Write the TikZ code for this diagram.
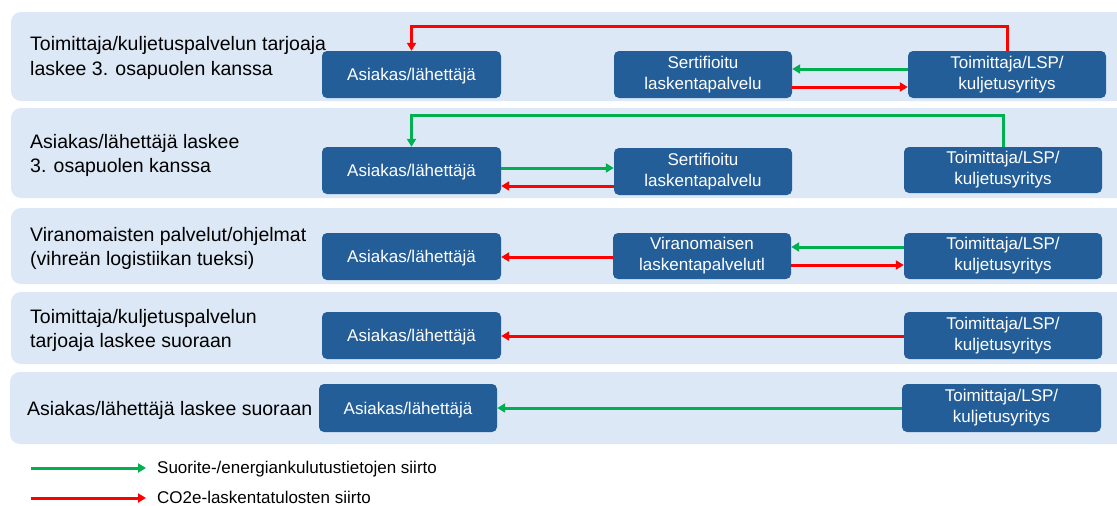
\documentclass[tikz,border=0pt]{standalone}
\usepackage{fontspec}
\setmainfont{Liberation Sans}
\usetikzlibrary{arrows.meta}
\definecolor{bandfill}{HTML}{DCE8F5}
\definecolor{boxfill}{HTML}{245E99}
\definecolor{flowgreen}{HTML}{00B050}
\definecolor{flowred}{HTML}{FF0000}
\tikzset{
  band/.style={fill=bandfill, rounded corners=10pt},
  party/.style={rectangle, rounded corners=5pt, fill=boxfill, text=white,
    inner sep=0pt, align=center, font=\fontsize{17}{21}\selectfont},
  oneline/.style={party, text depth=0pt},
  rowlabel/.style={anchor=base west, inner sep=0pt, font=\fontsize{19.5}{24}\selectfont},
  legtext/.style={anchor=base west, inner sep=0pt, font=\fontsize{17}{21}\selectfont},
  flow/.style={line width=3pt, -{Triangle[length=8pt,width=9pt]}},
  data/.style={flow, draw=flowgreen},
  result/.style={flow, draw=flowred},
}
\begin{document}
\begin{tikzpicture}[x=1pt, y=-1pt]
\useasboundingbox (0,0) rectangle (1117,506);
\fill[white] (0,0) rectangle (1117,506);

% background bands, one per way of calculating
\begin{scope}
  \clip (0,0) rectangle (1117,506);
  \path[band] (11,12)  rectangle (1140,101);
  \path[band] (11,108) rectangle (1140,198);
  \path[band] (11,208) rectangle (1140,284);
  \path[band] (11,292) rectangle (1140,364);
  \path[band] (10,372) rectangle (1140,444);
\end{scope}

% row labels
\node[rowlabel] (l1a) at (30,50)  {Toimittaja/kuljetuspalvelun tarjoaja};
\node[rowlabel] (l1b) at (30,75)  {laskee 3. osapuolen kanssa};
\node[rowlabel] (l2a) at (30,148) {Asiakas/lähettäjä laskee};
\node[rowlabel] (l2b) at (30,172) {3. osapuolen kanssa};
\node[rowlabel] (l3a) at (30,241) {Viranomaisten palvelut/ohjelmat};
\node[rowlabel] (l3b) at (30,265) {(vihreän logistiikan tueksi)};
\node[rowlabel] (l4a) at (30,323) {Toimittaja/kuljetuspalvelun};
\node[rowlabel] (l4b) at (30,347) {tarjoaja laskee suoraan};
\node[rowlabel] (l5a) at (27,415) {Asiakas/lähettäjä laskee suoraan};

% row 1
\node[oneline, minimum width=179pt, minimum height=47pt] (a1) at (411.5,74.5) {Asiakas/lähettäjä};
\node[party, minimum width=178pt, minimum height=47pt] (s1) at (703,74.5) {Sertifioitu\\laskentapalvelu};
\node[party, minimum width=198pt, minimum height=47pt] (t1) at (1007,74.5) {Toimittaja/LSP/\\kuljetusyritys};
\draw[result] (t1.north) -- (t1.north |- 0,26) -| (a1.north);
\draw[data]   (t1.west |- 0,69) -- (s1.east |- 0,69);
\draw[result] (s1.east |- 0,87) -- (t1.west |- 0,87);

% row 2
\node[oneline, minimum width=179pt, minimum height=47pt] (a2) at (411.5,170.5) {Asiakas/lähettäjä};
\node[party, minimum width=178pt, minimum height=47pt] (s2) at (703,171.5) {Sertifioitu\\laskentapalvelu};
\node[party, minimum width=198pt, minimum height=46pt] (t2) at (1003,170) {Toimittaja/LSP/\\kuljetusyritys};
\draw[data]   (t2.north) -- (t2.north |- 0,115) -| (a2.north);
\draw[data]   (a2.east |- 0,168) -- (s2.west |- 0,168);
\draw[result] (s2.west |- 0,186) -- (a2.east |- 0,186);

% row 3
\node[oneline, minimum width=179pt, minimum height=47pt] (a3) at (411.5,256.5) {Asiakas/lähettäjä};
\node[party, minimum width=178pt, minimum height=46pt] (v3) at (702,256) {Viranomaisen\\laskentapalvelutl};
\node[party, minimum width=198pt, minimum height=46pt] (t3) at (1003,256) {Toimittaja/LSP/\\kuljetusyritys};
\draw[result] (v3.west |- 0,257) -- (a3.east |- 0,257);
\draw[data]   (t3.west |- 0,247) -- (v3.east |- 0,247);
\draw[result] (v3.east |- 0,265) -- (t3.west |- 0,265);

% row 4
\node[oneline, minimum width=179pt, minimum height=47pt] (a4) at (411.5,335.5) {Asiakas/lähettäjä};
\node[party, minimum width=198pt, minimum height=47pt] (t4) at (1003,335.5) {Toimittaja/LSP/\\kuljetusyritys};
\draw[result] (t4.west |- 0,336) -- (a4.east |- 0,336);

% row 5
\node[oneline, minimum width=178pt, minimum height=48pt] (a5) at (408,408) {Asiakas/lähettäjä};
\node[party, minimum width=199pt, minimum height=48pt] (t5) at (1001.5,408) {Toimittaja/LSP/\\kuljetusyritys};
\draw[data] (t5.west |- 0,408) -- (a5.east |- 0,408);

% legend
\coordinate (g0) at (31,468);
\coordinate (g1) at (146,468);
\coordinate (r0) at (31,498);
\coordinate (r1) at (146,498);
\draw[data] (g0) -- (g1);
\draw[result] (r0) -- (r1);
\node[legtext] (gt) at (157,473) {Suorite-/energiankulutustietojen siirto};
\node[legtext] (rt) at (157,503) {CO2e-laskentatulosten siirto};
\end{tikzpicture}
\end{document}
